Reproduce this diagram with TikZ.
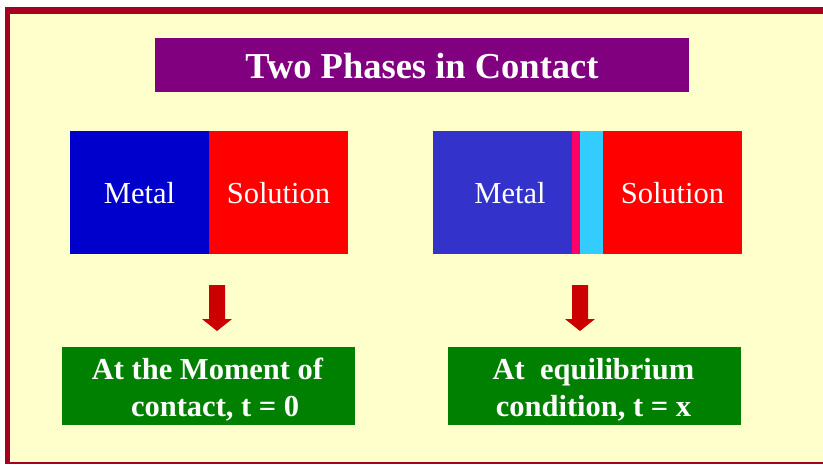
\documentclass[tikz,border=0pt]{standalone}
\usepackage{fontspec}
\setmainfont{Liberation Serif}
\definecolor{frame}{HTML}{A50021}
\definecolor{bg}{HTML}{FFFFCC}
\definecolor{ttl}{HTML}{800080}
\definecolor{metalA}{HTML}{0000CC}
\definecolor{metalB}{HTML}{3333CC}
\definecolor{solred}{HTML}{FF0000}
\definecolor{pinkst}{HTML}{FF0066}
\definecolor{cyanst}{HTML}{33CCFF}
\definecolor{grn}{HTML}{008000}
\definecolor{arr}{HTML}{CC0000}
\begin{document}
\begin{tikzpicture}[x=1pt,y=-1pt,
  lbl/.style={text=white,font=\fontsize{30.5}{34}\selectfont},
  gbox/.style={fill=grn,draw=none,text=white,font=\bfseries\fontsize{30.5}{37}\selectfont,align=center},
  downarrow/.style={fill=arr,draw=none}]
\useasboundingbox (0,0) rectangle (823,464);
\fill[white] (0,0) rectangle (823,464);
\fill[frame] (5,7) rectangle (823,464);
\fill[bg] (10,14) rectangle (823,462);
% title
\fill[ttl] (155,38) rectangle (689,92);
\node[text=white,font=\bfseries\fontsize{36.5}{40}\selectfont] (title) at (422,66) {Two Phases in Contact};
% left pair
\fill[metalA] (70,131) rectangle (209,254);
\fill[solred] (209,131) rectangle (348,254);
\node[lbl] (m1) at (139.5,193) {Metal};
\node[lbl] (s1) at (278.5,193) {Solution};
% right pair
\fill[metalB] (433,131) rectangle (572,254);
\fill[pinkst] (572,131) rectangle (580,254);
\fill[cyanst] (580,131) rectangle (603,254);
\fill[solred] (603,131) rectangle (742,254);
\node[lbl] (m2) at (510,193) {Metal};
\node[lbl] (s2) at (672.5,193) {Solution};
% arrows
\fill[downarrow] (209,285) -- (225,285) -- (225,319) -- (232,319) -- (217,331) -- (202,319) -- (209,319) -- cycle;
\fill[downarrow] (572,285) -- (588,285) -- (588,319) -- (595,319) -- (580,331) -- (565,319) -- (572,319) -- cycle;
% green boxes
\fill[grn] (62,347) rectangle (355,425);
\fill[grn] (448,347) rectangle (741,425);
\node[gbox] (g1) at (207.5,390) {At the Moment of\\\ \ contact, t = 0};
\node[gbox] (g2) at (593.5,390) {At\ \ equilibrium\\condition, t = x};
\end{tikzpicture}
\end{document}
